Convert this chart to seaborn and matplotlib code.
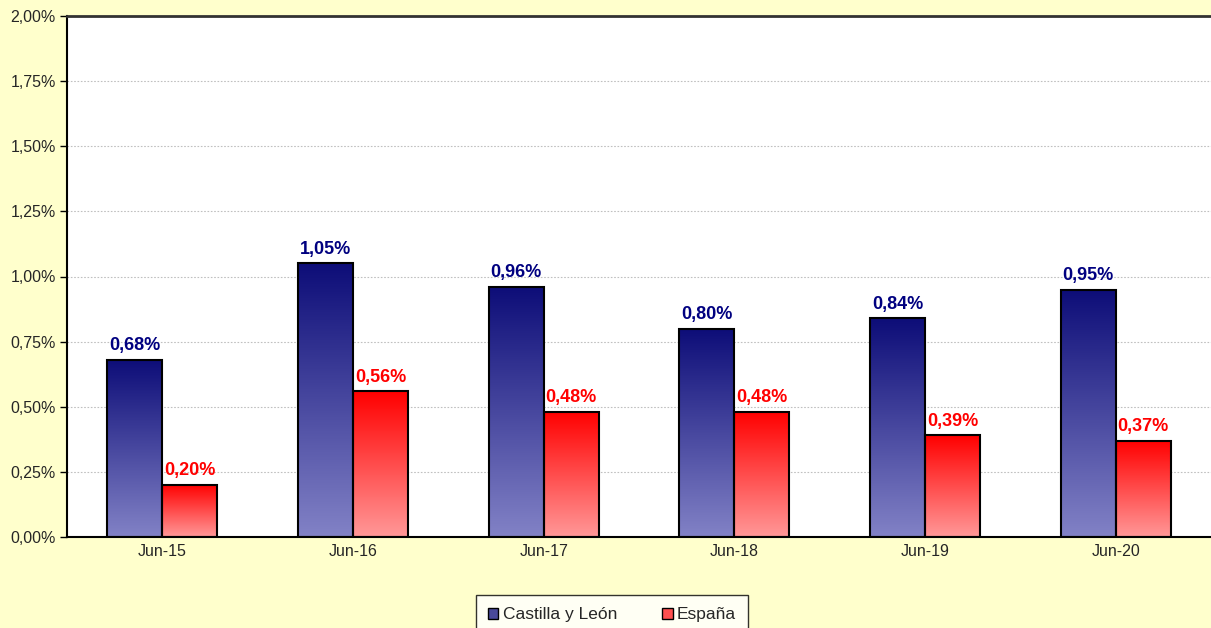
import numpy as np
import pandas as pd
import matplotlib
matplotlib.use('Agg')
import matplotlib.pyplot as plt
import matplotlib.colors as mcolors
from matplotlib.patches import Patch
from matplotlib.ticker import FuncFormatter, MultipleLocator
import seaborn as sns

periods = ['Jun-15', 'Jun-16', 'Jun-17', 'Jun-18', 'Jun-19', 'Jun-20']
castilla = [0.68, 1.05, 0.96, 0.80, 0.84, 0.95]
espana = [0.20, 0.56, 0.48, 0.48, 0.39, 0.37]
series = ['Castilla y León', 'España']

df = pd.DataFrame({
    'periodo': periods * 2,
    'valor': castilla + espana,
    'serie': [series[0]] * len(periods) + [series[1]] * len(periods),
})

sns.set_style('white')
plt.rcParams['font.family'] = ['Liberation Sans', 'DejaVu Sans']

fig = plt.figure(figsize=(12.11, 6.28), dpi=100, facecolor='#ffffcc')
ax = fig.add_axes([67 / 1211, 1 - 537 / 628, 1 - 67 / 1211, (537 - 16) / 628])
ax.set_facecolor('white')

sns.barplot(data=df, x='periodo', y='valor', hue='serie', hue_order=series,
            palette=['#3a3a8c', '#ff4040'], width=0.577, gap=0,
            edgecolor='black', linewidth=1.5, legend=False, ax=ax)

# gradient fill for each bar
grads = {
    0: mcolors.LinearSegmentedColormap.from_list('b', ['#8282c6', '#0d0d78']),
    1: mcolors.LinearSegmentedColormap.from_list('r', ['#ff9898', '#ff0000']),
}
g = np.linspace(0, 1, 256).reshape(-1, 1)
for i, cont in enumerate(ax.containers):
    for bar in cont:
        x0, w, h = bar.get_x(), bar.get_width(), bar.get_height()
        im = ax.imshow(g, cmap=grads[i], aspect='auto', origin='lower',
                       extent=[x0, x0 + w, 0, h], zorder=2)
        im.set_clip_path(bar)
        bar.set_facecolor('none')
        bar.set_zorder(3)

label_colors = ['#000080', '#ff0000']
for i, cont in enumerate(ax.containers):
    vals = castilla if i == 0 else espana
    ax.bar_label(cont, labels=[f'{v:.2f}%'.replace('.', ',') for v in vals],
                 padding=4, fontsize=13, fontweight='bold', color=label_colors[i])

ax.set_xlim(-0.5, 5.5)
ax.set_ylim(0, 2.0)
ax.yaxis.set_major_locator(MultipleLocator(0.25))
ax.yaxis.set_major_formatter(FuncFormatter(lambda v, p: f'{v:.2f}%'.replace('.', ',')))
ax.grid(axis='y', color='#c0c0c0', linestyle=(0, (1.5, 1.5)), linewidth=0.8, zorder=0)
ax.set_axisbelow(True)

# ticks between categories on x axis
ax.set_xticks(range(len(periods)))
ax.set_xticklabels(periods)
ax.tick_params(axis='x', length=0, labelsize=11.5, pad=5)
ax.set_xticks(np.arange(0.5, len(periods) - 0.5, 1), minor=True)
ax.tick_params(axis='x', which='minor', length=5, width=1, direction='out', color='#555555')
ax.tick_params(axis='y', length=5, width=1, direction='out', labelsize=11.5, color='black',
               left=True, pad=3)
ax.set_xlabel('')
ax.set_ylabel('')

for s in ['left', 'bottom']:
    ax.spines[s].set_color('black')
    ax.spines[s].set_linewidth(1.5)
ax.spines['top'].set_color('#333333')
ax.spines['top'].set_linewidth(2)
ax.spines['right'].set_visible(False)

handles = [Patch(facecolor='#4a4a9a', edgecolor='black', label=series[0]),
           Patch(facecolor='#ff5050', edgecolor='black', label=series[1])]
leg = fig.legend(handles=handles, loc='upper center', bbox_to_anchor=(612 / 1211, 1 - 595 / 628),
                 ncol=2, frameon=True, fancybox=False, fontsize=12.5, handlelength=0.6,
                 handleheight=0.6, handletextpad=0.25, columnspacing=2.6,
                 borderpad=0.7, borderaxespad=0)
leg._legend_box.align = 'center'
leg.get_frame().set_edgecolor('black')
leg.get_frame().set_linewidth(1)
# wider frame like the reference box
leg.set_in_layout(False)

fig.savefig('out.png', dpi=100, facecolor=fig.get_facecolor())
